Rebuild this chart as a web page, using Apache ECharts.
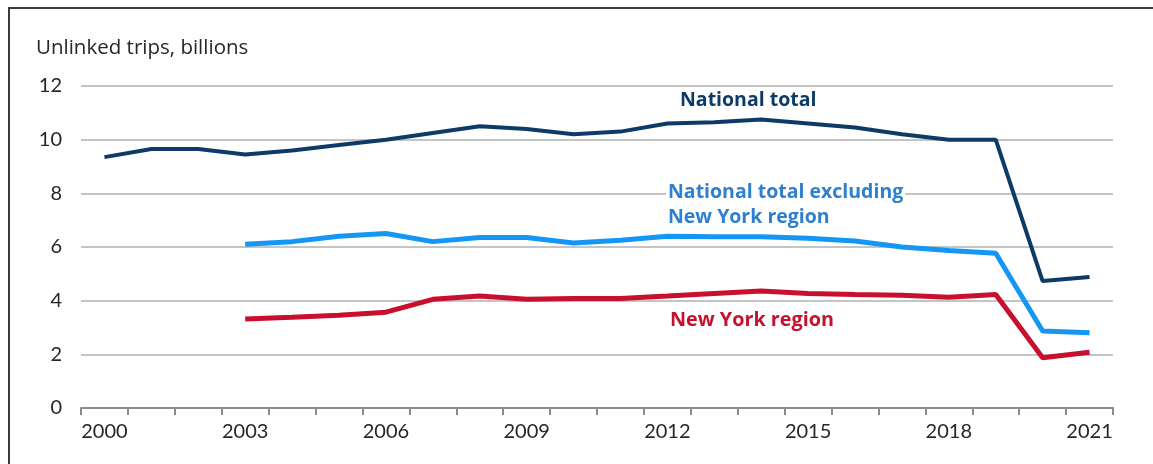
<!DOCTYPE html>
<html>
<head>
<meta charset="utf-8">
<script src="https://cdn.jsdelivr.net/npm/echarts@6/dist/echarts.min.js"></script>
<style>
  html, body { margin: 0; padding: 0; background: #fff; }
  #frame { position: absolute; left: 8px; top: 7px; width: 1145px; height: 457px;
           border-left: 2px solid #3a3a3a; border-top: 2px solid #3a3a3a; box-sizing: border-box; }
  #chart { position: absolute; left: 0; top: 0; width: 1153px; height: 464px; }
</style>
</head>
<body>
<div id="frame"></div>
<div id="chart"></div>
<script>
const years = ['2000','2001','2002','2003','2004','2005','2006','2007','2008','2009','2010',
  '2011','2012','2013','2014','2015','2016','2017','2018','2019','2020','2021'];
const nationalTotal = [9.35, 9.65, 9.65, 9.45, 9.6, 9.8, 10.0, 10.25, 10.5, 10.4, 10.2,
  10.3, 10.6, 10.65, 10.75, 10.6, 10.45, 10.2, 10.0, 10.0, 4.73, 4.88];
const excludingNY = [null, null, null, 6.1, 6.2, 6.4, 6.5, 6.2, 6.35, 6.35, 6.15,
  6.25, 6.4, 6.38, 6.38, 6.33, 6.22, 6.0, 5.87, 5.77, 2.87, 2.8];
const newYorkRegion = [null, null, null, 3.32, 3.38, 3.46, 3.57, 4.05, 4.17, 4.05, 4.08,
  4.08, 4.17, 4.27, 4.36, 4.27, 4.23, 4.2, 4.13, 4.23, 1.87, 2.08];
const yTicks = [0, 2, 4, 6, 8, 10, 12];
const yAxisTitle = 'Unlinked trips, billions';
const seriesNames = ['National total', 'National total excluding\nNew York region', 'New York region'];

const FONT = 'Lato, "Open Sans", sans-serif';
const FONT2 = '"Open Sans", Lato, sans-serif';
const chart = echarts.init(document.getElementById('chart'), null, { renderer: 'canvas' });
chart.setOption({
  animation: false,
  backgroundColor: 'transparent',
  grid: { left: 81, right: 40, top: 86, bottom: 56, containLabel: false },
  xAxis: {
    type: 'category',
    data: years,
    boundaryGap: true,
    axisLine: { lineStyle: { color: '#8c8c8c', width: 2 } },
    axisTick: { show: true, interval: 0, length: 7, lineStyle: { color: '#8c8c8c', width: 2 } },
    axisLabel: { interval: 2, margin: 14, color: '#262626', fontSize: 20, fontFamily: FONT },
    splitLine: { show: false }
  },
  yAxis: {
    type: 'value',
    min: yTicks[0], max: yTicks[yTicks.length - 1], interval: 2,
    axisLine: { show: false },
    axisTick: { show: false },
    axisLabel: { margin: 19, color: '#262626', fontSize: 20, fontFamily: FONT },
    splitLine: { lineStyle: { color: '#c4c4c4', width: 2 } }
  },
  graphic: [
    { type: 'text', left: 36, top: 38, style: { text: yAxisTitle, fill: '#262626', font: '20.5px ' + FONT2 } },
    { type: 'text', left: 680, top: 90, style: { text: seriesNames[0], fill: '#0d3a66', font: 'bold 19.5px ' + FONT2 } },
    { type: 'text', left: 666, top: 180, z: 10, style: { text: seriesNames[1], fill: '#2f7fd0', font: 'bold 19.5px ' + FONT2,
        lineHeight: 25, backgroundColor: '#fff', padding: [0, 2, 0, 2] } },
    { type: 'text', left: 670, top: 310, style: { text: seriesNames[2], fill: '#c8102e', font: 'bold 19.8px ' + FONT2 } }
  ],
  series: [
    { name: 'National total', type: 'line', data: nationalTotal, symbol: 'none', z: 3,
      lineStyle: { color: '#0d3a66', width: 4 } },
    { name: 'Excluding NY', type: 'line', data: excludingNY, symbol: 'none', z: 3,
      lineStyle: { color: '#1496f5', width: 5 } },
    { name: 'New York region', type: 'line', data: newYorkRegion, symbol: 'none', z: 3,
      lineStyle: { color: '#c8102e', width: 5 } }
  ]
});
</script>
</body>
</html>
